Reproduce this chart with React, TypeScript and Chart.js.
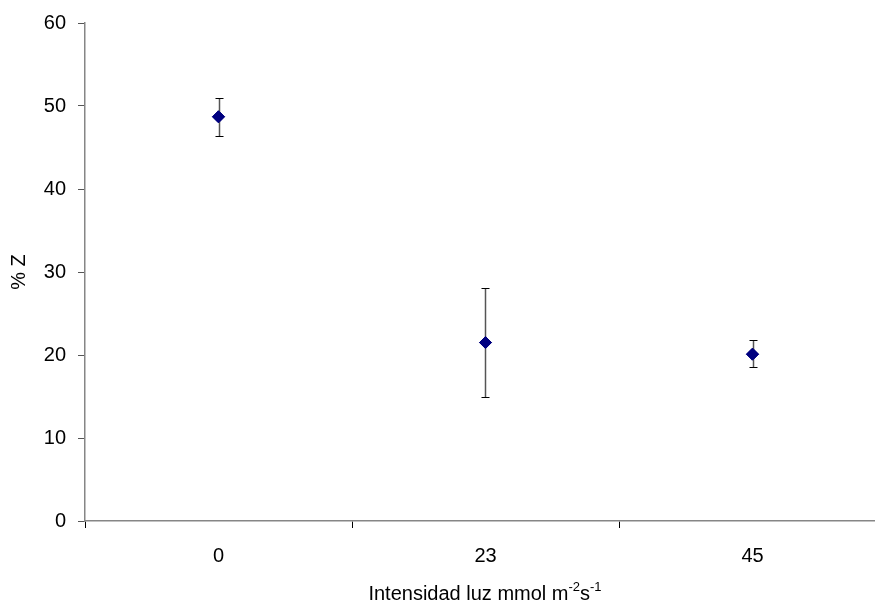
import React, { useEffect, useRef } from "react";
import { Chart, registerables } from "chart.js";

Chart.register(...registerables);

const categories = ["0", "23", "45"];
const meanValues = [48.7, 21.5, 20.1];
const errLow = [46.4, 15.0, 18.5];
const errHigh = [51.0, 28.1, 21.8];
const yTicks = [0, 10, 20, 30, 40, 50, 60];

const FONT = "'Liberation Sans', Arial, sans-serif";
const FS = 20;
const CANVAS_W = 882;

const errorBarPlugin = {
  id: "errorBars",
  afterDatasetsDraw(chart: any) {
    const { ctx, scales } = chart;
    const xs = scales.x;
    const ys = scales.y;
    ctx.save();
    meanValues.forEach((_, i) => {
      const x = Math.round(xs.getPixelForValue(i)) + 0.5;
      const yTop = Math.round(ys.getPixelForValue(errHigh[i])) + 0.5;
      const yBot = Math.round(ys.getPixelForValue(errLow[i])) + 0.5;
      ctx.strokeStyle = "#555555";
      ctx.lineWidth = 1.5;
      ctx.beginPath();
      ctx.moveTo(x, yTop);
      ctx.lineTo(x, yBot);
      ctx.stroke();
      ctx.strokeStyle = "#000000";
      ctx.lineWidth = 1;
      ctx.beginPath();
      ctx.moveTo(x - 4, yTop);
      ctx.lineTo(x + 4, yTop);
      ctx.moveTo(x - 4, yBot);
      ctx.lineTo(x + 4, yBot);
      ctx.stroke();
    });
    ctx.restore();
    const meta = chart.getDatasetMeta(0);
    meta.data.forEach((el: any) => el.draw(ctx, chart.chartArea));
  },
};

const xTitlePlugin = {
  id: "xTitle",
  afterDraw(chart: any) {
    const { ctx } = chart;
    ctx.save();
    ctx.fillStyle = "#000";
    ctx.textBaseline = "alphabetic";
    const parts: [string, boolean][] = [
      ["Intensidad luz mmol m", false],
      ["-2", true],
      ["s", false],
      ["-1", true],
    ];
    const big = `${FS}px ${FONT}`;
    const small = `13px ${FONT}`;
    let total = 0;
    parts.forEach(([t, sup]) => {
      ctx.font = sup ? small : big;
      total += ctx.measureText(t).width;
    });
    let x = 485 - total / 2;
    const base = 600;
    parts.forEach(([t, sup]) => {
      ctx.font = sup ? small : big;
      ctx.fillText(t, x, sup ? base - 9 : base);
      x += ctx.measureText(t).width;
    });
    ctx.restore();
  },
};

export default function App() {
  const ref = useRef<HTMLCanvasElement>(null);
  useEffect(() => {
    if (!ref.current) return;
    const chart = new Chart(ref.current, {
      type: "scatter",
      data: {
        datasets: [
          {
            data: meanValues.map((v, i) => ({ x: i, y: v })),
            pointStyle: "rectRot",
            pointRadius: 6,
            pointBackgroundColor: "#000080",
            pointBorderColor: "#000080",
            pointBorderWidth: 1,
            showLine: false,
          },
        ],
      },
      options: {
        animation: false,
        responsive: false,
        maintainAspectRatio: false,
        layout: { padding: { top: 23, right: 0, left: 0, bottom: 0 } },
        plugins: {
          legend: { display: false },
          tooltip: { enabled: false },
        },
        scales: {
          x: {
            type: "linear",
            min: -0.5,
            max: -0.5 + 790 / 267,
            afterBuildTicks: (scale: any) => {
              scale.ticks = [-0.5, 0, 0.5, 1, 1.5, 2].map((v) => ({ value: v }));
            },
            afterFit: (scale: any) => {
              scale.height = 84;
              scale.paddingLeft = 0;
              scale.paddingRight = 0;
            },
            border: { display: true, color: "#868686", width: 1.5 },
            grid: {
              drawOnChartArea: false,
              drawTicks: true,
              tickLength: 7,
              color: (c: any) =>
                c.tick && Number.isInteger(c.tick.value) ? "rgba(0,0,0,0)" : "#000000",
            },
            ticks: {
              autoSkip: false,
              maxRotation: 0,
              padding: 16,
              color: "#000",
              font: { family: FONT, size: FS },
              callback: (v: any) =>
                Number.isInteger(v) && v >= 0 && v < categories.length ? categories[v] : "",
            },
          },
          y: {
            min: 0,
            max: 60,
            afterBuildTicks: (scale: any) => {
              scale.ticks = yTicks.map((v) => ({ value: v }));
            },
            afterFit: (scale: any) => {
              scale.width = 85;
              scale.paddingTop = 0;
              scale.paddingBottom = 0;
            },
            border: { display: true, color: "#868686", width: 1.5 },
            grid: {
              drawOnChartArea: false,
              drawTicks: true,
              tickLength: 7,
              color: "#555555",
            },
            ticks: {
              padding: 12,
              color: "#000",
              font: { family: FONT, size: FS },
            },
            title: {
              display: true,
              text: "% Z",
              color: "#000",
              font: { family: FONT, size: FS },
              padding: { top: 7, bottom: 0 },
            },
          },
        },
      },
      plugins: [errorBarPlugin, xTitlePlugin],
    } as any);
    return () => chart.destroy();
  }, []);
  return (
    <div
      style={{
        position: "fixed",
        left: 0,
        top: 0,
        width: 875,
        height: 605,
        overflow: "hidden",
        background: "#fff",
      }}
    >
      <canvas
        ref={ref}
        width={CANVAS_W}
        height={605}
        style={{ width: CANVAS_W, height: 605, display: "block" }}
      />
    </div>
  );
}
